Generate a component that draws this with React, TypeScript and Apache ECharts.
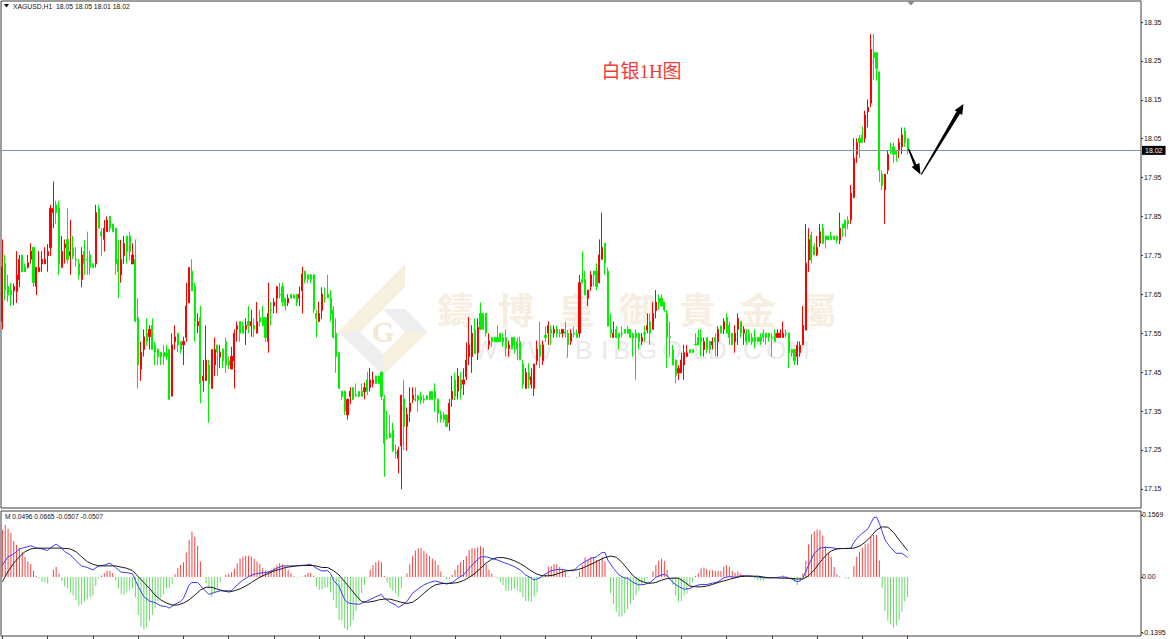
import React, { useEffect, useRef } from "react";
import * as echarts from "echarts";

const candlesA = [
[17.58,17.791,17.56,17.721],[17.729,17.751,17.635,17.661],[17.67,17.7,17.631,17.648],[17.661,17.68,17.62,17.648],[17.659,17.678,17.622,17.67],[17.657,17.761,17.628,17.7],[17.688,17.751,17.668,17.74],[17.751,17.751,17.708,17.708],[17.721,17.729,17.708,17.708],[17.719,17.751,17.717,17.731],
[17.74,17.781,17.729,17.761],[17.771,17.771,17.67,17.68],[17.67,17.721,17.648,17.719],[17.708,17.761,17.708,17.719],[17.728,17.761,17.708,17.74],[17.728,17.771,17.728,17.74],[17.749,17.779,17.708,17.76],[17.77,17.88,17.749,17.871],[17.86,17.94,17.82,17.871],[17.88,17.891,17.831,17.86],
[17.871,17.891,17.7,17.729],[17.719,17.8,17.719,17.76],[17.77,17.791,17.729,17.779],[17.791,17.871,17.729,17.74],[17.749,17.841,17.7,17.76],[17.77,17.8,17.74,17.749],[17.74,17.771,17.721,17.738],[17.729,17.74,17.688,17.7],[17.688,17.771,17.668,17.751],[17.76,17.79,17.7,17.729],
[17.74,17.811,17.7,17.738],[17.751,17.762,17.7,17.719],[17.729,17.729,17.719,17.719],[17.728,17.88,17.719,17.86],[17.871,17.88,17.82,17.82],[17.811,17.82,17.748,17.8],[17.791,17.841,17.76,17.82],[17.811,17.85,17.811,17.841],[17.85,17.85,17.811,17.82],[17.831,17.831,17.811,17.811],
[17.82,17.82,17.7,17.728],[17.74,17.79,17.64,17.708],[17.7,17.79,17.68,17.74],[17.749,17.8,17.728,17.781],[17.8,17.8,17.729,17.76],[17.8,17.811,17.738,17.76],[17.728,17.781,17.728,17.751],[17.74,17.791,17.58,17.58],[17.59,17.64,17.408,17.468],[17.458,17.528,17.428,17.501],
[17.508,17.56,17.49,17.541],[17.55,17.588,17.517,17.528],[17.541,17.571,17.508,17.56],[17.57,17.588,17.508,17.508],[17.52,17.528,17.468,17.501],[17.509,17.511,17.468,17.49],[17.501,17.501,17.468,17.49],[17.501,17.52,17.468,17.49],[17.498,17.52,17.481,17.491],[17.508,17.508,17.378,17.38],
[17.388,17.55,17.388,17.52],[17.528,17.57,17.508,17.541],[17.55,17.55,17.502,17.52],[17.528,17.528,17.498,17.508],[17.52,17.541,17.468,17.529],[17.539,17.68,17.528,17.62],[17.628,17.719,17.628,17.719],[17.71,17.74,17.659,17.659],[17.67,17.68,17.528,17.58],[17.569,17.601,17.55,17.58],
[17.59,17.62,17.37,17.421],[17.428,17.481,17.4,17.44],[17.428,17.57,17.428,17.481],[17.468,17.481,17.32,17.421],[17.408,17.508,17.408,17.508],[17.468,17.539,17.44,17.508],[17.52,17.52,17.44,17.501],[17.488,17.52,17.46,17.501],[17.509,17.511,17.46,17.479],[17.528,17.539,17.448,17.468],
[17.479,17.49,17.458,17.468],[17.458,17.515,17.458,17.49],[17.479,17.56,17.408,17.55],[17.56,17.58,17.528,17.57],[17.58,17.58,17.528,17.55],[17.57,17.58,17.55,17.55],[17.56,17.588,17.52,17.57],[17.58,17.62,17.55,17.569],[17.569,17.61,17.541,17.58],[17.57,17.588,17.539,17.56],
[17.55,17.63,17.55,17.58],[17.59,17.61,17.567,17.579],[17.59,17.62,17.57,17.569],[17.59,17.59,17.528,17.539],[17.528,17.68,17.5,17.601],[17.61,17.63,17.57,17.608],[17.62,17.64,17.601,17.63],[17.64,17.67,17.601,17.67],[17.65,17.68,17.64,17.648],[17.67,17.68,17.62,17.63],
[17.64,17.64,17.608,17.62],[17.628,17.65,17.62,17.64],[17.65,17.65,17.64,17.64],[17.648,17.65,17.64,17.64],[17.65,17.65,17.62,17.629],[17.64,17.67,17.62,17.65],
];
const candlesB = [
[17.659,17.721,17.601,17.702],[17.71,17.71,17.678,17.688],[17.7,17.702,17.678,17.689],[17.7,17.702,17.678,17.688],[17.7,17.702,17.601,17.61],[17.601,17.61,17.539,17.588],[17.58,17.631,17.58,17.601],[17.608,17.668,17.586,17.651],[17.641,17.668,17.628,17.64],[17.65,17.7,17.64,17.641],
[17.64,17.661,17.58,17.599],[17.61,17.62,17.537,17.539],[17.55,17.588,17.448,17.49],[17.5,17.5,17.408,17.408],[17.401,17.402,17.378,17.387],[17.401,17.402,17.34,17.35],[17.34,17.382,17.328,17.38],[17.387,17.411,17.368,17.401],[17.41,17.411,17.378,17.38],[17.391,17.421,17.387,17.389],
[17.4,17.401,17.387,17.388],[17.401,17.421,17.387,17.388],[17.4,17.423,17.38,17.41],[17.43,17.451,17.391,17.4],[17.41,17.461,17.4,17.43],[17.421,17.451,17.411,17.43],[17.44,17.441,17.419,17.421],[17.44,17.441,17.419,17.421],[17.45,17.451,17.378,17.388],[17.381,17.391,17.181,17.267],
[17.282,17.351,17.277,17.28],[17.293,17.34,17.28,17.282],[17.301,17.32,17.245,17.248],[17.244,17.263,17.228,17.241],[17.228,17.258,17.19,17.25],[17.26,17.391,17.149,17.391],[17.381,17.43,17.25,17.31],[17.31,17.359,17.248,17.341],[17.348,17.411,17.322,17.37],[17.38,17.411,17.37,17.391],
[17.381,17.411,17.374,17.378],[17.389,17.391,17.348,17.378],[17.389,17.4,17.368,17.378],[17.381,17.391,17.37,17.378],[17.389,17.391,17.378,17.38],[17.4,17.4,17.378,17.38],[17.4,17.4,17.378,17.38],[17.4,17.421,17.348,17.38],[17.381,17.381,17.32,17.344],[17.34,17.351,17.32,17.328],
[17.34,17.348,17.32,17.328],[17.34,17.34,17.31,17.31],[17.32,17.381,17.299,17.37],[17.38,17.441,17.361,17.401],[17.43,17.449,17.378,17.387],[17.401,17.46,17.38,17.44],[17.43,17.451,17.38,17.408],[17.419,17.46,17.391,17.43],[17.438,17.526,17.43,17.481],[17.49,17.592,17.468,17.52],
[17.49,17.571,17.448,17.55],[17.56,17.588,17.496,17.498],[17.5,17.588,17.481,17.565],[17.601,17.629,17.56,17.56],[17.601,17.601,17.56,17.56],[17.601,17.601,17.541,17.55],[17.52,17.55,17.508,17.531],[17.539,17.541,17.515,17.528],[17.539,17.541,17.528,17.528],[17.539,17.57,17.528,17.528],
[17.55,17.55,17.528,17.528],[17.539,17.55,17.515,17.528],[17.539,17.56,17.49,17.511],[17.51,17.531,17.49,17.52],[17.539,17.541,17.51,17.51],[17.539,17.541,17.498,17.52],[17.528,17.539,17.481,17.51],[17.528,17.541,17.481,17.481],[17.471,17.481,17.408,17.419],[17.408,17.46,17.408,17.449],
[17.449,17.473,17.408,17.43],[17.418,17.46,17.408,17.438],[17.408,17.471,17.389,17.471],[17.479,17.531,17.468,17.509],[17.52,17.58,17.46,17.49],[17.479,17.531,17.468,17.52],[17.545,17.567,17.528,17.539],[17.55,17.58,17.52,17.57],[17.56,17.57,17.52,17.55],[17.55,17.57,17.539,17.56],
[17.56,17.57,17.539,17.55],[17.55,17.56,17.539,17.548],[17.55,17.56,17.539,17.56],[17.554,17.58,17.539,17.55],[17.55,17.558,17.488,17.52],[17.529,17.56,17.52,17.55],[17.55,17.567,17.539,17.548],[17.55,17.56,17.539,17.539],[17.55,17.7,17.539,17.68],[17.688,17.76,17.678,17.68],
[17.688,17.71,17.648,17.648],[17.64,17.661,17.62,17.661],[17.67,17.71,17.659,17.7],[17.71,17.71,17.67,17.7],[17.71,17.73,17.661,17.67],[17.68,17.791,17.678,17.751],[17.74,17.86,17.74,17.771],[17.781,17.781,17.7,17.73],
];
const candlesC = [
[17.71,17.719,17.568,17.568],[17.56,17.601,17.539,17.55],[17.539,17.58,17.539,17.55],[17.56,17.568,17.537,17.539],[17.55,17.55,17.508,17.539],[17.55,17.568,17.539,17.548],[17.56,17.56,17.55,17.55],[17.56,17.568,17.548,17.55],[17.56,17.56,17.539,17.539],[17.55,17.55,17.49,17.537],
[17.55,17.56,17.43,17.539],[17.55,17.55,17.508,17.528],[17.529,17.55,17.52,17.539],[17.55,17.568,17.528,17.548],[17.558,17.601,17.55,17.57],[17.58,17.601,17.52,17.55],[17.56,17.63,17.56,17.601],[17.608,17.661,17.588,17.63],[17.64,17.65,17.61,17.629],[17.64,17.65,17.62,17.62],
[17.63,17.63,17.605,17.61],[17.601,17.61,17.46,17.539],[17.541,17.58,17.49,17.539],[17.508,17.52,17.468,17.468],[17.481,17.483,17.421,17.442],[17.448,17.468,17.43,17.46],[17.448,17.5,17.448,17.481],[17.468,17.52,17.43,17.5],[17.49,17.52,17.49,17.5],[17.508,17.508,17.5,17.5],
[17.508,17.508,17.5,17.5],[17.522,17.55,17.52,17.52],[17.539,17.56,17.52,17.52],[17.539,17.56,17.49,17.528],[17.508,17.539,17.49,17.529],[17.539,17.539,17.498,17.508],[17.529,17.529,17.498,17.508],[17.52,17.539,17.508,17.529],[17.539,17.55,17.49,17.528],[17.529,17.568,17.49,17.56],
[17.568,17.57,17.55,17.55],[17.56,17.588,17.548,17.58],[17.591,17.601,17.55,17.55],[17.57,17.58,17.52,17.539],[17.55,17.55,17.52,17.52],[17.528,17.57,17.5,17.55],[17.56,17.601,17.52,17.588],[17.58,17.58,17.539,17.55],[17.55,17.568,17.52,17.56],[17.55,17.56,17.52,17.528],
[17.55,17.56,17.528,17.528],[17.539,17.55,17.52,17.528],[17.539,17.56,17.511,17.528],[17.539,17.539,17.529,17.529],[17.539,17.55,17.52,17.529],[17.55,17.56,17.528,17.539],[17.55,17.55,17.52,17.539],[17.55,17.55,17.528,17.539],[17.539,17.55,17.49,17.537],[17.55,17.56,17.528,17.529],
[17.539,17.56,17.539,17.55],[17.539,17.56,17.539,17.55],[17.539,17.58,17.539,17.55],[17.55,17.56,17.539,17.548],[17.55,17.55,17.46,17.5],[17.508,17.508,17.49,17.5],[17.508,17.508,17.468,17.479],[17.49,17.529,17.468,17.519],[17.5,17.529,17.49,17.519],[17.52,17.62,17.52,17.57],
[17.558,17.831,17.558,17.73],[17.738,17.82,17.708,17.791],[17.802,17.811,17.73,17.738],[17.772,17.781,17.751,17.751],[17.751,17.8,17.748,17.771],[17.781,17.831,17.772,17.811],[17.82,17.831,17.781,17.781],[17.8,17.8,17.768,17.79],[17.8,17.8,17.79,17.79],[17.8,17.811,17.79,17.791],
[17.8,17.8,17.79,17.79],[17.8,17.8,17.781,17.79],[17.789,17.86,17.779,17.82],[17.831,17.831,17.798,17.82],[17.841,17.841,17.798,17.82],[17.841,17.851,17.817,17.831],[17.841,17.931,17.831,17.91],[17.899,18.051,17.897,18.0],[18.01,18.051,17.988,18.04],[18.051,18.06,18.0,18.04],
[18.06,18.081,18.04,18.04],[18.051,18.122,18.04,18.111],[18.119,18.151,18.079,18.131],[18.141,18.319,18.131,18.28],[18.271,18.319,18.201,18.258],[18.271,18.271,18.199,18.231],[18.222,18.222,17.939,17.969],[17.959,17.969,17.918,17.929],[17.918,17.959,17.831,17.959],[17.969,18.019,17.959,18.01],
[18.019,18.04,18.01,18.017],[18.029,18.04,17.988,18.01],[18.019,18.019,17.991,18.01],[18.019,18.051,18.0,18.04],[18.029,18.079,18.01,18.06],[18.07,18.079,18.029,18.04],[18.05,18.05,18.01,18.02],
];
const candles = [...candlesA, ...candlesB, ...candlesC];

const histogram = [
.119,.132,.123,.111,.091,.081,.073,.064,.051,.039,.033,.016,.003,-.003,-.012,-.014,-.017,0,.018,.025,.008,-.01,-.024,-.029,-.041,-.047,-.058,-.073,-.069,-.062,-.057,-.052,-.047,-.023,-.003,.004,.01,.016,.016,.01,
-.008,-.029,-.044,-.044,-.039,-.035,-.029,-.052,-.096,-.126,-.132,-.127,-.111,-.096,-.079,-.061,-.054,-.044,-.03,-.027,-.018,.007,.022,.03,.037,.062,.094,.115,.102,.079,.039,0,-.016,-.029,-.05,-.041,-.029,-.014,0,.005,
.008,.012,.02,.035,.047,.051,.053,.054,.051,.046,.039,.033,.022,.017,.015,.018,.024,.029,.035,.032,.024,.018,.009,.002,-.001,-.002,.001,.005,.011,.011,.003,-.024,-.033,-.031,-.027,-.027,-.039,-.058,-.079,-.109,
-.111,-.13,-.134,-.126,-.109,-.086,-.062,-.041,-.02,-.002,.018,.03,.037,.041,.037,.003,-.014,-.027,-.035,-.041,-.05,-.029,-.002,.009,.032,.054,.067,.073,.073,.066,.059,.053,.047,.041,.03,.014,.001,-.005,-.005,.005,
.018,.03,.037,.043,.053,.068,.073,.073,.075,.078,.074,.032,.018,.009,.001,-.003,-.014,-.02,-.035,-.035,-.035,-.03,-.035,-.039,-.052,-.061,-.061,-.062,-.05,-.039,-.005,-.003,.005,.026,.028,.032,.032,.026,.018,.014,
.001,0,0,-.003,.014,.03,.049,.043,.051,.051,.043,.043,.051,.039,0,-.041,-.069,-.089,-.1,-.1,-.092,-.081,-.069,-.058,-.046,-.035,-.02,-.016,-.003,0,.014,.03,.041,.046,.041,.018,0,-.02,-.047,-.062,
-.061,-.046,-.041,-.024,-.014,.003,.009,.022,.024,.02,.017,.017,.015,.015,.015,.026,.03,.026,.016,.011,.014,.009,.005,.003,.003,-.002,-.005,-.008,-.008,-.01,-.005,-.003,-.002,0,0,0,.004,.002,0,-.005,
-.012,-.02,-.01,.009,.041,.083,.108,.116,.12,.118,.105,.077,.062,.051,.025,.007,.002,0,-.002,-.004,0,.028,.051,.064,.074,.083,.085,.102,.106,.106,.042,-.027,-.086,-.111,-.12,-.128,-.123,-.109,-.088,-.062,-.0507,
];

const fastLine = [
[0,.03],[2,.051],[4,.058],[6,.071],[8,.075],[10,.079],[11,.077],[12,.073],[14,.071],[16,.067],[17,.074],[19,.083],[21,.073],[22,.064],[24,.056],[26,.041],[28,.028],[30,.024],[32,.018],[34,.028],[36,.03],[38,.035],[40,.024],[42,.012],[44,.011],[46,.008],[47,-.008],[48,-.024],[50,-.05],[52,-.061],[54,-.065],[56,-.073],[58,-.075],[59,-.079],[61,-.069],[63,-.062],[64,-.054],[66,-.02],[67,-.014],[69,-.014],[71,-.03],[73,-.044],[75,-.039],[77,-.035],[79,-.035],[81,-.035],[83,-.02],[85,-.008],[87,.001],[89,.007],[91,.01],[93,.011],[95,.015],[97,.022],[99,.028],[101,.028],[103,.028],[105,.029],[107,.03],[109,.032],[111,.022],
[113,.015],[115,.016],[116,.009],[117,-.008],[119,-.024],[121,-.058],[122,-.065],[124,-.068],[126,-.069],[128,-.064],[130,-.057],[132,-.05],[134,-.044],[135,-.054],[137,-.064],[139,-.071],[140,-.077],[142,-.068],[143,-.062],[145,-.041],[147,-.03],[149,-.02],[151,-.014],[153,-.01],[155,-.014],[157,-.018],[159,-.014],[161,-.003],[163,.005],[165,.022],[167,.037],[169,.051],[171,.051],[173,.047],[175,.043],[177,.037],[179,.032],[181,.026],[183,.018],[185,.005],[187,-.003],[188,-.008],[190,-.002],[192,.008],[194,.016],[196,.019],[198,.019],[200,.016],[202,.016],[204,.03],[206,.039],[208,.047],[210,.051],[212,.062],[213,.062],[214,.043],[216,.022],[218,.005],[220,-.003],
[221,-.003],[223,-.014],[225,-.02],[227,-.019],[229,-.014],[231,-.001],[233,.005],[234,.007],[235,.003],[237,-.014],[239,-.024],[241,-.031],[243,-.029],[245,-.022],[247,-.019],[249,-.019],[251,-.016],[253,-.012],[255,-.002],[257,.001],[259,-.001],[261,.003],[263,.003],[265,.002],[267,0],[269,-.002],[271,-.002],[273,-.002],[275,0],[277,-.001],[279,-.005],[281,-.012],[282,-.01],[283,-.002],[285,.03],[287,.06],[289,.073],[291,.075],[293,.074],[295,.072],[297,.072],[300,.073],[301,.088],[303,.105],[306,.122],[307,.136],[308,.15],[309,.152],[310,.136],[311,.115],[312,.094],[314,.074],[316,.06],[318,.06],[320,.0496],
];

const slowLine = [
[0,-.012],[2,.014],[4,.035],[6,.051],[8,.064],[10,.071],[12,.073],[14,.073],[18,.073],[21,.073],[24,.071],[26,.064],[28,.051],[30,.039],[32,.032],[34,.028],[38,.028],[40,.028],[42,.025],[44,.022],[46,.016],[48,.001],[50,-.014],[52,-.029],[54,-.046],[56,-.058],[58,-.066],[60,-.071],[62,-.071],[64,-.066],[66,-.058],[68,-.046],[70,-.033],[72,-.026],[74,-.026],[76,-.031],[78,-.035],[80,-.038],[82,-.035],[84,-.03],[86,-.023],[88,-.014],[90,-.005],[92,.003],[94,.009],[96,.015],[98,.019],[100,.024],[102,.026],[104,.028],[106,.029],[108,.029],[110,.029],[112,.026],
[113,.024],[115,.024],[117,.016],[119,.005],[121,-.012],[123,-.029],[125,-.047],[127,-.062],[129,-.064],[131,-.062],[133,-.058],[135,-.056],[137,-.056],[139,-.06],[141,-.064],[143,-.067],[145,-.064],[147,-.054],[149,-.041],[151,-.029],[153,-.02],[155,-.017],[157,-.016],[159,-.016],[161,-.014],[163,-.009],[165,-.001],[167,.009],[169,.022],[171,.035],[173,.045],[175,.049],[177,.049],[179,.046],[181,.041],[183,.034],[185,.025],[187,.015],[189,.007],[191,.003],[193,.003],[195,.005],[197,.01],[199,.015],[201,.017],[203,.018],[205,.022],[207,.029],[209,.035],[211,.043],[213,.049],[215,.053],[217,.05],[219,.037],[221,.02],
[223,.003],[225,-.008],[227,-.014],[229,-.016],[231,-.014],[233,-.008],[235,-.004],[237,-.003],[239,-.003],[241,-.012],[243,-.023],[245,-.025],[247,-.025],[249,-.023],[251,-.019],[253,-.014],[255,-.01],[257,-.006],[259,-.002],[261,.001],[263,.002],[265,.002],[267,.002],[269,0],[271,-.002],[273,-.002],[275,-.003],[277,-.003],[279,-.004],[281,-.005],[283,-.005],[285,.003],[287,.018],[289,.037],[291,.054],[293,.066],[295,.071],[297,.072],[299,.072],[301,.073],[303,.078],[305,.088],[307,.102],[309,.119],[311,.127],[313,.126],[315,.113],[317,.094],[320,.0665],
];

const priceTicks = [18.35, 18.25, 18.15, 18.05, 17.95, 17.85, 17.75, 17.65, 17.55, 17.45, 17.35, 17.25, 17.15];
const macdTicks = [0.1569, 0, -0.1395];
const lastPrice = 18.02;
const symbolLabel = "XAGUSD,H1  18.05 18.05 18.01 18.02";
const macdLabel = "M 0.0496 0.0665 -0.0507 -0.0507";
const noteLabel = "白银1H图";
const brandChars = ["鑄", "博", "皇", "御", "貴", "金", "屬"];
const siteChars = ["W", "W", "W", ".", "B", "I", "B", "G", "O", "L", "D", ".", "C", "O", "M"];
const siteOffsets = [473, 501, 528, 563, 575, 601, 613, 637, 662, 693, 708, 735, 743, 766, 788];
const slotCount = 403;
const slots = Array.from({ length: slotCount }, (_, i) => String(i));

const UI_FONT = "'Liberation Sans', Arial, sans-serif";

export default function App() {
  const ref = useRef<HTMLDivElement>(null);
  useEffect(() => {
    const chart = echarts.init(ref.current!, undefined, { renderer: "svg" });
    const tan = "#f8f0df";
    const pale = "#eeeef1";
    chart.setOption({
      animation: false,
      backgroundColor: "#ffffff",
      grid: [
        { left: 1, top: 1, width: 1140, height: 507, show: true, borderColor: "#3c3c3c", borderWidth: 1, backgroundColor: "transparent" },
        { left: 1, top: 511, width: 1140, height: 125, show: true, borderColor: "#3c3c3c", borderWidth: 1, backgroundColor: "transparent" },
      ],
      xAxis: [
        { type: "category", gridIndex: 0, data: slots, axisLine: { show: false }, axisTick: { show: false }, axisLabel: { show: false }, splitLine: { show: false } },
        {
          type: "category", gridIndex: 1, data: slots, position: "bottom",
          axisLine: { show: false, onZero: false },
          axisTick: { show: true, alignWithLabel: true, length: 3, interval: (i: number) => i % 16 === 0 && i < candles.length, lineStyle: { color: "#3c3c3c" } },
          axisLabel: { show: false }, splitLine: { show: false },
        },
      ],
      yAxis: [
        {
          type: "value", gridIndex: 0, position: "right", min: 17.1007, max: 18.404, scale: true,
          axisLine: { show: false }, splitLine: { show: false },
          axisTick: { show: true, length: 2, customValues: priceTicks, lineStyle: { color: "#3c3c3c" } },
          axisLabel: { show: true, customValues: priceTicks, margin: 3, color: "#111", fontFamily: UI_FONT, fontSize: 7, formatter: (v: number) => v.toFixed(2) },
        },
        {
          type: "value", gridIndex: 1, position: "right", min: -0.1494, max: 0.167,
          axisLine: { show: false }, splitLine: { show: false },
          axisTick: { show: true, length: 2, customValues: macdTicks, lineStyle: { color: "#3c3c3c" } },
          axisLabel: { show: true, customValues: macdTicks, margin: 1, color: "#111", fontFamily: UI_FONT, fontSize: 7, formatter: (v: number) => (v === 0 ? "0.00" : v.toFixed(4)) },
        },
      ],
      series: [
        {
          type: "candlestick", xAxisIndex: 0, yAxisIndex: 0, barWidth: 1.6, z: 3,
          data: candles.map(([o, h, l, c]) => [o, c, l, h]),
          itemStyle: { color: "#ff0000", color0: "#00f000", borderColor: "#ff0000", borderColor0: "#00f000", borderWidth: 1 },
          markLine: {
            silent: true, symbol: "none", animation: false,
            lineStyle: { color: "#8294a8", width: 1, type: "solid" },
            label: { show: true, position: "end", distance: 1, formatter: lastPrice.toFixed(2), color: "#fff", backgroundColor: "#000", padding: [1, 3], fontFamily: UI_FONT, fontSize: 7 },
            data: [{ yAxis: lastPrice }],
          },
        },
        {
          type: "bar", xAxisIndex: 1, yAxisIndex: 1, barWidth: 1, z: 2,
          data: histogram.map((v) => ({ value: v, itemStyle: { color: v >= 0 ? "#f94040" : "#66d966" } })),
        },
        { type: "line", xAxisIndex: 1, yAxisIndex: 1, data: fastLine, showSymbol: false, z: 4, lineStyle: { color: "#3a3af5", width: 1 } },
        { type: "line", xAxisIndex: 1, yAxisIndex: 1, data: slowLine, showSymbol: false, z: 5, lineStyle: { color: "#1a1a1a", width: 1 } },
      ],
      graphic: { elements: [
        { type: "polygon", z: 0, shape: { points: [[405, 264], [405, 287], [360, 332], [338, 332]] }, style: { fill: tan } },
        { type: "polygon", z: 0, shape: { points: [[338, 332], [360, 332], [383, 354], [383, 375]] }, style: { fill: pale } },
        { type: "polygon", z: 0, shape: { points: [[383, 309], [405, 309], [428, 332], [405, 332]] }, style: { fill: pale } },
        { type: "polygon", z: 0, shape: { points: [[428, 332], [405, 332], [383, 354], [383, 375]] }, style: { fill: tan } },
        { type: "text", z: 0, x: 383, y: 332, style: { text: "G", fill: "#f3e6d3", font: "bold 29px 'Liberation Serif', serif", textAlign: "center", textVerticalAlign: "middle" } },
        ...brandChars.map((ch, i) => ({ type: "text", z: 0, x: 455.5 + i * 60.5, y: 307.5, style: { text: ch, fill: "#f7eee2", font: "bold 36px 'Noto Sans CJK TC', sans-serif", textAlign: "center", textVerticalAlign: "middle" } })),
        ...siteChars.map((ch, i) => ({ type: "text", z: 0, x: siteOffsets[i], y: 349.5, style: { text: ch, fill: "#eaeaea", font: "26px 'Liberation Sans', sans-serif", textAlign: "left", textVerticalAlign: "middle" } })),
        { type: "polygon", z: 50, shape: { points: [[4, 4], [9, 4], [6.5, 7.5]] }, style: { fill: "#111" } },
        { type: "text", z: 50, x: 13, y: 6.5, style: { text: symbolLabel, fill: "#111", font: `6.8px ${UI_FONT}`, textVerticalAlign: "middle" } },
        { type: "text", z: 50, x: 5, y: 516, style: { text: macdLabel, fill: "#111", font: `6.6px ${UI_FONT}`, textVerticalAlign: "middle" } },
        { type: "polygon", z: 50, shape: { points: [[907, 1], [915, 1], [911, 5.5]] }, style: { fill: "#8a8a8a" } },
        { type: "text", z: 50, x: 641.5, y: 71, style: { text: noteLabel, fill: "#f03c3c", font: "19px 'Liberation Serif', 'Noto Sans CJK SC', serif", textAlign: "center", textVerticalAlign: "middle" } },
        { type: "polygon", z: 60, shape: { points: [[908, 149.5], [909.5, 149], [916.4, 164.6], [919.4, 163], [920.5, 174.5], [911.6, 167], [914, 165.8]] }, style: { fill: "#000" } },
        { type: "polygon", z: 60, shape: { points: [[920.8, 174.3], [921.8, 174.8], [960, 113.7], [962.2, 115], [963.5, 104], [954.6, 110.3], [956.6, 111.6]] }, style: { fill: "#000" } },
      ] },
    });
    return () => chart.dispose();
  }, []);
  return <div ref={ref} style={{ position: "fixed", left: 0, top: 0, width: 1170, height: 639 }} />;
}
